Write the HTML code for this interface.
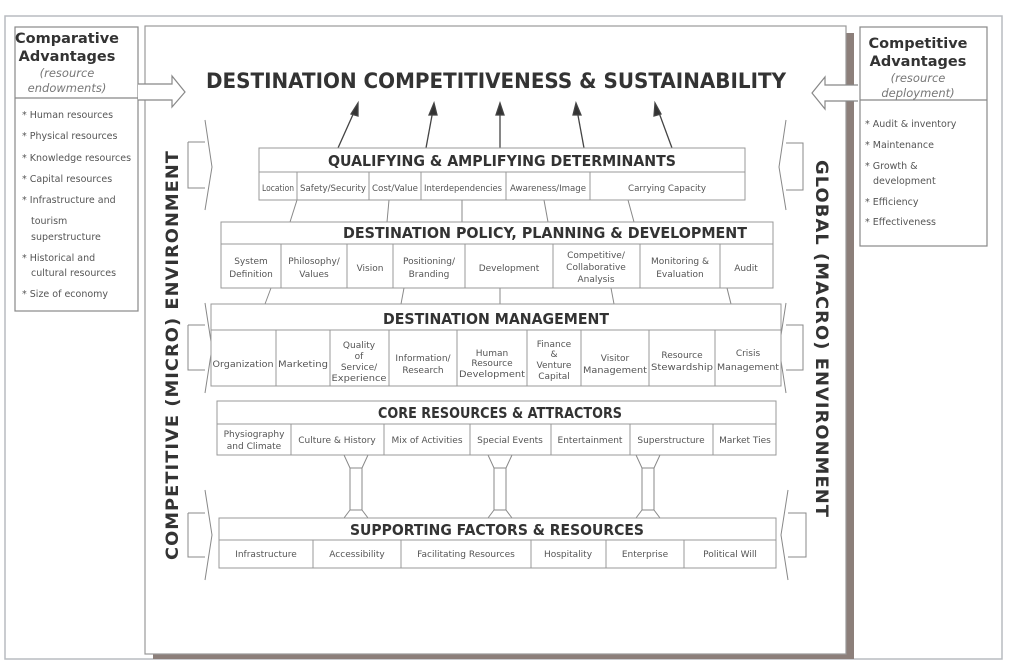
<!DOCTYPE html>
<html><head><meta charset="utf-8"><style>
html,body{margin:0;padding:0;background:#fff;}
svg{display:block;font-family:"DejaVu Sans","Liberation Sans",sans-serif;}
.c{font-size:9px;fill:#555;text-anchor:middle;}
.h{font-size:15px;font-weight:bold;fill:#333;text-anchor:middle;}
.b{font-size:9.5px;fill:#555;}
</style></head><body>
<svg width="1009" height="665" viewBox="0 0 1009 665" xmlns="http://www.w3.org/2000/svg">
<g fill="none" stroke="#aaa" stroke-width="1.5">
<rect x="5" y="16" width="997" height="643" stroke="#b8bcc0"/>
</g>
<rect x="846" y="33" width="8" height="625" fill="#8c7f7a"/>
<rect x="153" y="653" width="701" height="6" fill="#8c7f7a"/>
<rect x="145" y="26" width="701" height="628" fill="#fff" stroke="#999" stroke-width="1.2"/>

<rect x="15" y="27" width="123" height="284" fill="#fff" stroke="#888" stroke-width="1.2"/>
<line x1="15" y1="98" x2="138" y2="98" stroke="#888" stroke-width="1.2"/>
<text x="67" y="43" style="font-size:14.5px;font-weight:bold;fill:#333" text-anchor="middle">Comparative</text>
<text x="67" y="61" style="font-size:14.5px;font-weight:bold;fill:#333" text-anchor="middle">Advantages</text>
<text x="67" y="77" style="font-size:11.5px;font-style:italic;fill:#777" text-anchor="middle">(resource</text>
<text x="67" y="92" style="font-size:11.5px;font-style:italic;fill:#777" text-anchor="middle">endowments)</text>
<g class="b">
<text x="22" y="118">* Human resources</text>
<text x="22" y="139">* Physical resources</text>
<text x="22" y="161">* Knowledge resources</text>
<text x="22" y="182">* Capital resources</text>
<text x="22" y="203">* Infrastructure and</text>
<text x="31" y="224">tourism</text>
<text x="31" y="240">superstructure</text>
<text x="22" y="261">* Historical and</text>
<text x="31" y="276">cultural resources</text>
<text x="22" y="297">* Size of economy</text>
</g>

<rect x="860" y="27" width="127" height="219" fill="#fff" stroke="#888" stroke-width="1.2"/>
<line x1="860" y1="100" x2="987" y2="100" stroke="#888" stroke-width="1.2"/>
<text x="918" y="48" style="font-size:14.5px;font-weight:bold;fill:#333" text-anchor="middle">Competitive</text>
<text x="918" y="66" style="font-size:14.5px;font-weight:bold;fill:#333" text-anchor="middle">Advantages</text>
<text x="918" y="82" style="font-size:11.5px;font-style:italic;fill:#777" text-anchor="middle">(resource</text>
<text x="918" y="97" style="font-size:11.5px;font-style:italic;fill:#777" text-anchor="middle">deployment)</text>
<g class="b">
<text x="865" y="127">* Audit &amp; inventory</text>
<text x="865" y="148">* Maintenance</text>
<text x="865" y="169">* Growth &amp;</text>
<text x="873" y="184">development</text>
<text x="865" y="205">* Efficiency</text>
<text x="865" y="225">* Effectiveness</text>
</g>

<path d="M138 84 L172 84 L172 76 L185 92 L172 107 L172 100 L138 100" fill="#fff" stroke="#888" stroke-width="1.2"/>
<path d="M858 85 L825 85 L825 77 L812 93 L825 109 L825 101 L858 101" fill="#fff" stroke="#888" stroke-width="1.2"/>

<text x="496" y="88" style="font-size:21px;font-weight:bold;fill:#333" text-anchor="middle" textLength="580" lengthAdjust="spacingAndGlyphs">DESTINATION COMPETITIVENESS &amp; SUSTAINABILITY</text>

<g stroke="#444" stroke-width="1.3" fill="#333">
<line x1="338" y1="148" x2="355" y2="110"/><path d="M358 103 L351 114 L358 116 Z"/>
<line x1="426" y1="148" x2="433" y2="110"/><path d="M434 103 L429 115 L437 115 Z"/>
<line x1="500" y1="148" x2="500" y2="110"/><path d="M500 103 L496 115 L504 115 Z"/>
<line x1="584" y1="148" x2="577" y2="110"/><path d="M576 103 L573 115 L581 115 Z"/>
<line x1="672" y1="148" x2="658" y2="110"/><path d="M655 103 L654 116 L661 114 Z"/>
</g>

<g stroke="#888" stroke-width="1">
<line x1="297" y1="200" x2="290" y2="222"/><line x1="389" y1="200" x2="387" y2="222"/><line x1="462" y1="200" x2="462" y2="222"/><line x1="544" y1="200" x2="548" y2="222"/><line x1="628" y1="200" x2="634" y2="222"/>
<line x1="271" y1="288" x2="265" y2="304"/><line x1="404" y1="288" x2="401" y2="304"/><line x1="500" y1="288" x2="500" y2="304"/><line x1="611" y1="288" x2="614" y2="304"/><line x1="727" y1="288" x2="731" y2="304"/>
</g>

<g fill="#fff" stroke="#888" stroke-width="1">
<path d="M188 142 L205 142 M188 142 L188 188 L205 188 M205 120 L212 167 L205 210"/>
<path d="M205 303 L212 348 L205 393 M188 325 L205 325 M188 325 L188 370 L205 370"/>
<path d="M205 490 L212 535 L205 580 M188 513 L205 513 M188 513 L188 557 L205 557"/>
<path d="M786 120 L779 167 L786 210 M786 143 L803 143 L803 190 L786 190"/>
<path d="M786 303 L779 348 L786 393 M786 325 L803 325 L803 370 L786 370"/>
<path d="M788 490 L781 535 L788 580 M788 513 L806 513 L806 557 L788 557"/>
</g>

<text transform="translate(178,355) rotate(-90)" style="font-size:17px;font-weight:bold;fill:#333;letter-spacing:1px" text-anchor="middle" textLength="410" lengthAdjust="spacingAndGlyphs">COMPETITIVE (MICRO) ENVIRONMENT</text>
<text transform="translate(816,339) rotate(90)" style="font-size:17px;font-weight:bold;fill:#333;letter-spacing:1px" text-anchor="middle" textLength="358" lengthAdjust="spacingAndGlyphs">GLOBAL (MACRO) ENVIRONMENT</text>

<g fill="#fff" stroke="#888" stroke-width="1">
<path d="M344 455 L368 455 L362 468 L362 510 L368 518 L344 518 L350 510 L350 468 Z M350 468 L362 468 M350 510 L362 510"/>
<path d="M488 455 L512 455 L506 468 L506 510 L512 518 L488 518 L494 510 L494 468 Z M494 468 L506 468 M494 510 L506 510"/>
<path d="M636 455 L660 455 L654 468 L654 510 L660 518 L636 518 L642 510 L642 468 Z M642 468 L654 468 M642 510 L654 510"/>
</g>

<g fill="#fff" stroke="#999" stroke-width="1">
<rect x="259" y="148" width="486" height="52"/><line x1="259" y1="172" x2="745" y2="172"/>
<path d="M297 172V200M369 172V200M421 172V200M506 172V200M590 172V200"/>
<rect x="221" y="222" width="552" height="66"/><line x1="221" y1="244" x2="773" y2="244"/>
<path d="M281 244V288M347 244V288M393 244V288M465 244V288M553 244V288M640 244V288M720 244V288"/>
<rect x="211" y="304" width="570" height="82"/><line x1="211" y1="330" x2="781" y2="330"/>
<path d="M276 330V386M330 330V386M389 330V386M457 330V386M527 330V386M581 330V386M649 330V386M715 330V386"/>
<rect x="217" y="401" width="559" height="54"/><line x1="217" y1="424" x2="776" y2="424"/>
<path d="M291 424V455M384 424V455M470 424V455M551 424V455M630 424V455M713 424V455"/>
<rect x="219" y="518" width="557" height="50"/><line x1="219" y1="540" x2="776" y2="540"/>
<path d="M313 540V568M401 540V568M531 540V568M606 540V568M684 540V568"/>
</g>

<text class="h" x="502" y="166" textLength="348" lengthAdjust="spacingAndGlyphs">QUALIFYING &amp; AMPLIFYING DETERMINANTS</text>
<g class="c">
<text x="278" y="191" textLength="32" lengthAdjust="spacingAndGlyphs">Location</text>
<text x="333" y="191" textLength="66" lengthAdjust="spacingAndGlyphs">Safety/Security</text>
<text x="395" y="191" textLength="46" lengthAdjust="spacingAndGlyphs">Cost/Value</text>
<text x="463" y="191" textLength="78" lengthAdjust="spacingAndGlyphs">Interdependencies</text>
<text x="548" y="191" textLength="76" lengthAdjust="spacingAndGlyphs">Awareness/Image</text>
<text x="667" y="191" textLength="78" lengthAdjust="spacingAndGlyphs">Carrying Capacity</text>
</g>

<text class="h" x="545" y="238" textLength="404" lengthAdjust="spacingAndGlyphs">DESTINATION POLICY, PLANNING &amp; DEVELOPMENT</text>
<g class="c">
<text x="251" y="264">System</text><text x="251" y="277">Definition</text>
<text x="314" y="264">Philosophy/</text><text x="314" y="277">Values</text>
<text x="370" y="271">Vision</text>
<text x="429" y="264">Positioning/</text><text x="429" y="277">Branding</text>
<text x="509" y="271">Development</text>
<text x="596" y="258">Competitive/</text><text x="596" y="270">Collaborative</text><text x="596" y="282">Analysis</text>
<text x="680" y="264">Monitoring &amp;</text><text x="680" y="277">Evaluation</text>
<text x="746" y="271">Audit</text>
</g>

<text class="h" x="496" y="324" textLength="226" lengthAdjust="spacingAndGlyphs">DESTINATION MANAGEMENT</text>
<g class="c">
<text x="243" y="367" textLength="61" lengthAdjust="spacingAndGlyphs">Organization</text>
<text x="303" y="367" textLength="50" lengthAdjust="spacingAndGlyphs">Marketing</text>
<text x="359" y="348">Quality</text><text x="359" y="359">of</text><text x="359" y="370">Service/</text><text x="359" y="381" textLength="55" lengthAdjust="spacingAndGlyphs">Experience</text>
<text x="423" y="361">Information/</text><text x="423" y="373">Research</text>
<text x="492" y="356">Human</text><text x="492" y="366">Resource</text><text x="492" y="377" textLength="66" lengthAdjust="spacingAndGlyphs">Development</text>
<text x="554" y="347">Finance</text><text x="554" y="357">&amp;</text><text x="554" y="368">Venture</text><text x="554" y="379">Capital</text>
<text x="615" y="361">Visitor</text><text x="615" y="373" textLength="64" lengthAdjust="spacingAndGlyphs">Management</text>
<text x="682" y="358">Resource</text><text x="682" y="370" textLength="62" lengthAdjust="spacingAndGlyphs">Stewardship</text>
<text x="748" y="356">Crisis</text><text x="748" y="370" textLength="62" lengthAdjust="spacingAndGlyphs">Management</text>
</g>

<text class="h" x="500" y="418" textLength="244" lengthAdjust="spacingAndGlyphs">CORE RESOURCES &amp; ATTRACTORS</text>
<g class="c">
<text x="254" y="437">Physiography</text><text x="254" y="449">and Climate</text>
<text x="337" y="443">Culture &amp; History</text>
<text x="427" y="443">Mix of Activities</text>
<text x="510" y="443">Special Events</text>
<text x="590" y="443">Entertainment</text>
<text x="671" y="443">Superstructure</text>
<text x="745" y="443">Market Ties</text>
</g>

<text class="h" x="497" y="535" textLength="294" lengthAdjust="spacingAndGlyphs">SUPPORTING FACTORS &amp; RESOURCES</text>
<g class="c">
<text x="266" y="557">Infrastructure</text>
<text x="357" y="557">Accessibility</text>
<text x="466" y="557">Facilitating Resources</text>
<text x="568" y="557">Hospitality</text>
<text x="645" y="557">Enterprise</text>
<text x="730" y="557">Political Will</text>
</g>
</svg>
</body></html>
